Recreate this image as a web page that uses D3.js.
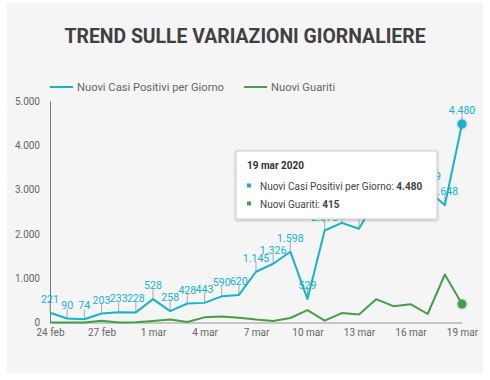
<!DOCTYPE html>
<html>
<head>
<meta charset="utf-8">
<script src="https://cdn.jsdelivr.net/npm/d3@7"></script>
<style>
  body { margin: 0; background: #fff; font-family: Roboto, sans-serif; }
  svg { display: block; }
</style>
</head>
<body>
<svg width="490" height="380"></svg>
<script>
// data
const days = ["2020-02-24","2020-02-25","2020-02-26","2020-02-27","2020-02-28","2020-02-29",
  "2020-03-01","2020-03-02","2020-03-03","2020-03-04","2020-03-05","2020-03-06","2020-03-07",
  "2020-03-08","2020-03-09","2020-03-10","2020-03-11","2020-03-12","2020-03-13","2020-03-14",
  "2020-03-15","2020-03-16","2020-03-17","2020-03-18","2020-03-19"];
const nuoviPositivi = [221, 90, 74, 203, 233, 228, 528, 258, 428, 443, 590, 620, 1145,
  1326, 1598, 529, 2076, 2249, 2116, 2795, 2853, 2470, 2989, 2648, 4480];
const nuoviGuariti = [1, 0, 2, 42, 1, 4, 33, 66, 11, 116, 138, 109, 66,
  33, 102, 280, 41, 213, 181, 527, 369, 414, 192, 1084, 415];
const yTicks = [0, 1000, 2000, 3000, 4000, 5000];
const seriesNames = ["Nuovi Casi Positivi per Giorno", "Nuovi Guariti"];
const colors = ["#14b4cc", "#43a047"];
const selected = 24;

const it = d3.formatLocale({ decimal: ",", thousands: ".", grouping: [3], currency: ["€", ""] });
const fmt = it.format(",d");
const mesi = ["gen","feb","mar","apr","mag","giu","lug","ago","set","ott","nov","dic"];
const parse = d3.timeParse("%Y-%m-%d");
const dates = days.map(parse);
const dayLabel = d => d.getDate() + " " + mesi[d.getMonth()];

const svg = d3.select("svg");

svg.append("rect").attr("x", 7).attr("y", 3).attr("width", 476).attr("height", 370)
  .attr("fill", "#f5f5f5");

svg.append("text").attr("x", 245).attr("y", 43).attr("text-anchor", "middle")
  .attr("font-size", 19.4).attr("font-weight", 700).attr("fill", "#404040")
  .text("TREND SULLE VARIAZIONI GIORNALIERE");

const x = d3.scaleTime().domain(d3.extent(dates)).range([50, 462]);
const y = d3.scaleLinear().domain([0, 5000]).range([322.5, 101]);

// legend
const legend = svg.append("g").attr("font-size", 11.2).attr("fill", "#666");
[[50, 0], [244, 1]].forEach(([lx, i]) => {
  legend.append("line").attr("x1", lx).attr("x2", lx + 23).attr("y1", 87).attr("y2", 87)
    .attr("stroke", colors[i]).attr("stroke-width", 2);
  legend.append("text").attr("x", lx + 27).attr("y", 91).text(seriesNames[i]);
});

// axes
const yAxis = svg.append("g").attr("transform", "translate(50,0)")
  .call(d3.axisLeft(y).tickValues(yTicks).tickSize(0).tickPadding(10).tickFormat(fmt));
yAxis.select(".domain").attr("stroke", "#777");
yAxis.selectAll("text").attr("font-family", "Roboto").attr("font-size", 10).attr("fill", "#666");

const xTicks = dates.filter((d, i) => i % 3 === 0);
const xAxis = svg.append("g").attr("transform", "translate(0,322.5)")
  .call(d3.axisBottom(x).tickValues(xTicks).tickSize(0).tickPadding(6).tickFormat(dayLabel));
xAxis.select(".domain").attr("stroke", "#999");
xAxis.selectAll("text").attr("font-family", "Roboto").attr("font-size", 10).attr("fill", "#666");

// annotations for the positive series
const ann = svg.append("g");
nuoviPositivi.forEach((v, i) => {
  const px = x(dates[i]), py = y(v);
  ann.append("line").attr("x1", px).attr("x2", px).attr("y1", py).attr("y2", py - 10)
    .attr("stroke", "#aaa").attr("stroke-width", 1);
  ann.append("text").attr("x", px).attr("y", py - 10).attr("text-anchor", "middle")
    .attr("font-size", 10.6).attr("fill", colors[0]).text(fmt(v));
});

// lines
const line = d3.line().x((d, i) => x(dates[i])).y(d => y(d));
[nuoviGuariti, nuoviPositivi].forEach((s, k) => {
  svg.append("path").attr("d", line(s)).attr("fill", "none")
    .attr("stroke", colors[1 - k]).attr("stroke-width", 2).attr("stroke-linejoin", "round");
});

// selected points
const defs = svg.append("defs");
defs.append("filter").attr("id", "blur").append("feGaussianBlur").attr("stdDeviation", 1.2);
[nuoviPositivi, nuoviGuariti].forEach((s, k) => {
  const px = x(dates[selected]), py = y(s[selected]);
  svg.append("circle").attr("cx", px).attr("cy", py).attr("r", 5.5)
    .attr("fill", "#000").attr("opacity", 0.15).attr("filter", "url(#blur)");
  svg.append("circle").attr("cx", px).attr("cy", py).attr("r", 4.5).attr("fill", colors[k]);
});

// tooltip
defs.append("filter").attr("id", "shadow").append("feDropShadow")
  .attr("dx", 0).attr("dy", 1).attr("stdDeviation", 1.5).attr("flood-opacity", 0.25);
const tip = svg.append("g").attr("transform", "translate(236,151)");
tip.append("rect").attr("width", 201).attr("height", 68).attr("fill", "#fff")
  .attr("stroke", "#ccc").attr("stroke-width", 1).attr("filter", "url(#shadow)");
tip.append("text").attr("x", 11).attr("y", 18).attr("font-size", 10).attr("font-weight", 700)
  .attr("fill", "#333").text("19 mar 2020");
[nuoviPositivi, nuoviGuariti].forEach((s, k) => {
  const ty = 38.5 + k * 18;
  tip.append("rect").attr("x", 11).attr("y", ty - 6).attr("width", 4).attr("height", 4)
    .attr("fill", colors[k]);
  const t = tip.append("text").attr("x", 24).attr("y", ty).attr("font-size", 10).attr("fill", "#444");
  t.append("tspan").text(seriesNames[k] + ": ");
  t.append("tspan").attr("font-weight", 700).text(fmt(s[selected]));
});
</script>
</body>
</html>
